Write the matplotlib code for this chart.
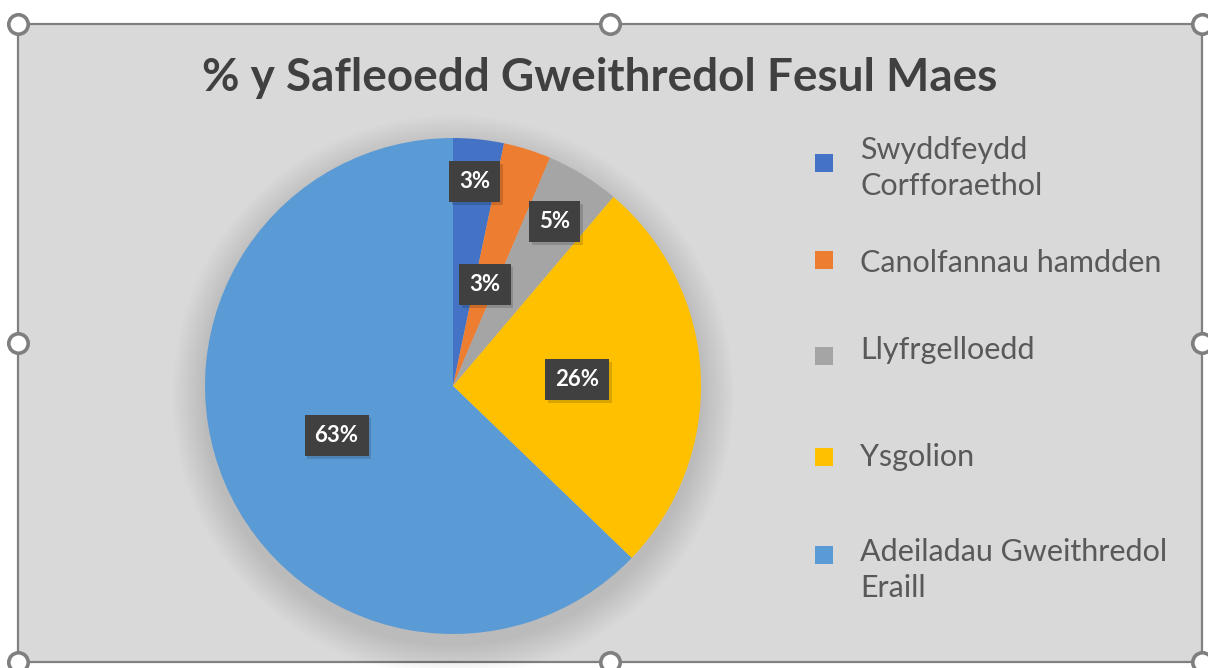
import matplotlib
matplotlib.use("Agg")
import matplotlib.pyplot as plt
import numpy as np
from matplotlib.patches import Rectangle, Circle
from matplotlib.lines import Line2D
import matplotlib.patheffects as pe

# ---- data ----
categories = ["Swyddfeydd\nCorfforaethol", "Canolfannau hamdden", "Llyfrgelloedd",
              "Ysgolion", "Adeiladau Gweithredol\nEraill"]
values = [3.3, 3.1, 4.8, 26.0, 62.8]
colors = ["#4472C4", "#ED7D31", "#A5A5A5", "#FFC000", "#5B9BD5"]
label_dist = [0.83, 0.43, 0.78, 0.50, 0.51]
title = "% y Safleoedd Gweithredol Fesul Maes"

W, H = 1208, 668
fig = plt.figure(figsize=(W / 100, H / 100), dpi=100)
fig.patch.set_facecolor("white")

def fx(px):
    return px / W

def fy(py):
    return 1 - py / H

# chart frame
frame = Rectangle((fx(18), fy(662)), fx(1202) - fx(18), fy(24) - fy(662),
                  transform=fig.transFigure, facecolor="#D9D9D9",
                  edgecolor="#808080", linewidth=1.6, zorder=0)
fig.patches.append(frame)

# pie axes
cx, cy, R = 453, 386, 248
half = 1.05 * R
ax = fig.add_axes([fx(cx - half), fy(cy + half), 2 * half / W, 2 * half / H])
ax.set_zorder(2)
ax.patch.set_visible(False)

# soft shadow
n = 30
for i in range(n):
    r = 1.0 + 0.0045 * (i + 1)
    ax.add_patch(Circle((0.0, -0.04), r, facecolor="black", alpha=0.0055,
                        edgecolor="none", zorder=0, clip_on=False))

wedges, _ = ax.pie(values, colors=colors, startangle=90, counterclock=False,
                   radius=1.0, wedgeprops=dict(linewidth=0, zorder=2))
ax.set_xlim(-1.05, 1.05)
ax.set_ylim(-1.05, 1.05)
ax.set_aspect("equal")
ax.axis("off")

for w, v, d in zip(wedges, values, label_dist):
    ang = np.deg2rad((w.theta1 + w.theta2) / 2)
    x, y = d * np.cos(ang), d * np.sin(ang)
    t = ax.text(x, y, f"{v:.0f}%", ha="center", va="center", fontsize=16,
                fontweight="bold", family="Lato", color="white",
                bbox=dict(boxstyle="square,pad=0.45", facecolor="#404040",
                          edgecolor="none"), zorder=5)
    t.get_bbox_patch().set_path_effects(
        [pe.SimplePatchShadow(offset=(2, -2), shadow_rgbFace="black", alpha=0.15),
         pe.Normal()])

# title
fig.text(fx(600), fy(78), title, ha="center", va="center", fontsize=33,
         fontweight="bold", family="Lato", color="#404040")

# legend
leg_y = [168, 263, 350, 457, 570]
sq_y = [163, 260, 356, 457, 555]
for cat, c, ty, sy in zip(categories, colors, leg_y, sq_y):
    s = 18
    fig.patches.append(Rectangle((fx(815), fy(sy + s / 2)), s / W, s / H,
                                 transform=fig.transFigure, facecolor=c,
                                 edgecolor="none", zorder=3))
    fig.text(fx(860), fy(ty), cat, ha="left", va="center", fontsize=22,
             family="Lato", color="#595959", linespacing=1.35)

# selection handles
hx = [18, 610, 1202, 18, 1202, 18, 610, 1202]
hy = [24, 24, 24, 343, 343, 662, 662, 662]
for x, y in zip(hx, hy):
    fig.add_artist(Line2D([fx(x)], [fy(y)], marker="o", markersize=14,
                          markerfacecolor="white", markeredgecolor="#7F7F7F",
                          markeredgewidth=2.6, transform=fig.transFigure,
                          zorder=10))

fig.savefig("out.png", dpi=100, facecolor="white")
